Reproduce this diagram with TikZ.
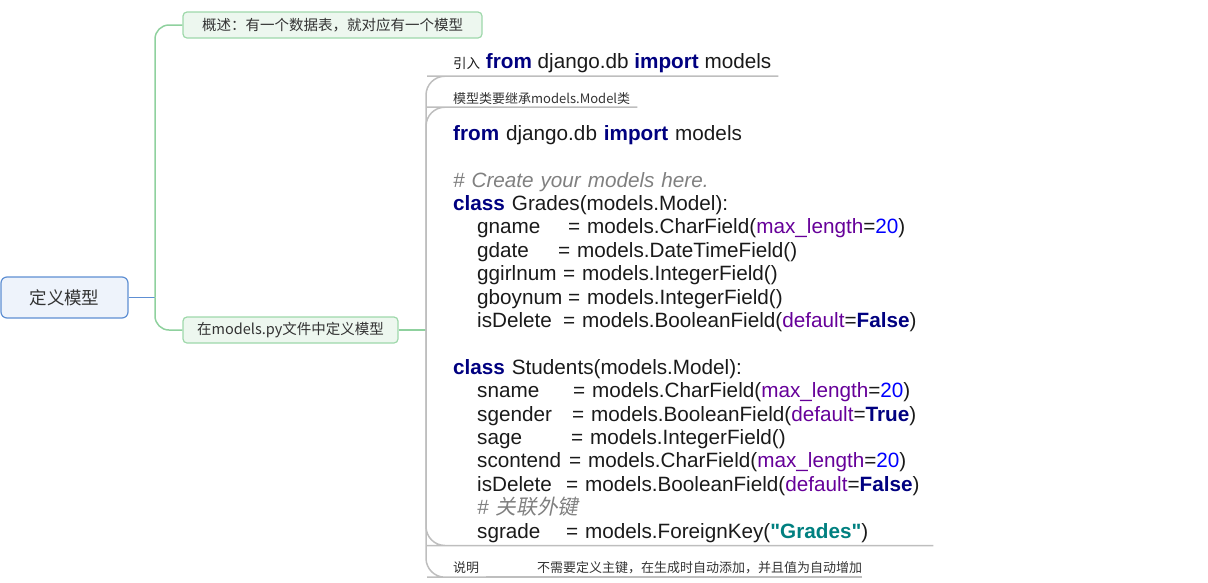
\documentclass[tikz,border=0pt]{standalone}
\usepackage{fontspec}
\setmainfont{Liberation Sans}[Ligatures=TeXOff]
\newfontfamily\cjk{Noto Sans CJK SC}
\newfontfamily\cjkslant{Noto Sans CJK SC}[FakeSlant=0.2]
\usetikzlibrary{positioning}

\definecolor{rootblue}{HTML}{5E8FD3}
\definecolor{rootfill}{HTML}{EEF3FB}
\definecolor{topicgreen}{HTML}{9ED8AA}
\definecolor{topicfill}{HTML}{EDF7EF}
\definecolor{branchgreen}{HTML}{8FD19E}
\definecolor{branchgray}{HTML}{BEBEBE}
\definecolor{labelgray}{HTML}{333333}
\definecolor{codeblack}{HTML}{1A1A1A}
\definecolor{kwblue}{HTML}{000080}
\definecolor{argpurple}{HTML}{660099}
\definecolor{numblue}{HTML}{0000FF}
\definecolor{strteal}{HTML}{008080}
\definecolor{cmtgray}{HTML}{808080}

\newcommand\pykw[1]{{\bfseries\color{kwblue}#1}}
\newcommand\pyarg[1]{{\color{argpurple}#1}}
\newcommand\pynum[1]{{\color{numblue}#1}}
\newcommand\pystr[1]{{\bfseries\color{strteal}"#1"}}
\newcommand\pycmt[1]{{\itshape\color{cmtgray}#1}}
\newcommand\pyfld[2]{\hspace*{24pt}\makebox[#1pt][l]{#2}}

\tikzset{
  rootbox/.style={draw=rootblue, fill=rootfill, line width=1.2pt, rounded corners=6pt,
    minimum width=127pt, minimum height=41pt, text=labelgray,
    font=\fontsize{17.5}{20}\selectfont\cjk},
  topicbox/.style={draw=topicgreen, fill=topicfill, line width=1.2pt, rounded corners=4pt,
    minimum height=26pt, text=labelgray, font=\fontsize{14.5}{17}\selectfont\cjk},
  subtopic/.style={inner xsep=7pt, inner ysep=0pt, text=labelgray,
    font=\fontsize{13}{16}\selectfont\cjk},
  codetext/.style={text=codeblack, font=\fontsize{20.7}{23.4}\selectfont},
  rootline/.style={draw=rootblue, line width=1.4pt},
  mainline/.style={draw=branchgreen, line width=1.5pt, rounded corners=14pt},
  subline/.style={draw=branchgray, line width=1.5pt, rounded corners=19pt}
}

\begin{document}
\begin{tikzpicture}[x=1pt, y=-1pt]
	\useasboundingbox (0,0) rectangle (1208,582);
	% central topic and its two branches
	\node[rootbox] (root) at (64.5,297.5) {定义模型};
	\node[topicbox, minimum width=299pt] (overview) at (332.5,25) {概述：有一个数据表，就对应有一个模型};
	\node[topicbox, minimum width=215pt] (define) at (290.5,330) {在models.py文件中定义模型};
	\coordinate (fork) at (155,297.5);
	\draw[rootline] (root.east) -- (fork);
	\draw[mainline] (fork) |- (overview.west);
	\draw[mainline] (fork) |- (define.west);
	% sub topics of define, underlined
	\node[subtopic, codetext, anchor=base west, text depth=7.5pt] (import) at (446,68.5)
		{{\fontsize{13.5}{16}\selectfont\cjk 引入} \pykw{from} django.db \pykw{import} models};
	\node[subtopic, anchor=base west, text depth=4pt] (inherit) at (446,103) {模型类要继承models.Model类};
	\node[subtopic, codetext, inner ysep=3pt, anchor=north west, text width=473pt, align=left] (code) at (446,122) {%
		\pykw{from} django.db \pykw{import} models\\[23.4pt]
		\pycmt{\# Create your models here.}\\
		\pykw{class} Grades(models.Model):\\
		\pyfld{91}{gname}= models.CharField(\pyarg{max\_length}=\pynum{20})\\
		\pyfld{81}{gdate}= models.DateTimeField()\\
		\pyfld{86}{ggirlnum}= models.IntegerField()\\
		\pyfld{91}{gboynum}= models.IntegerField()\\
		\pyfld{86}{isDelete}= models.BooleanField(\pyarg{default}=\pykw{False})\\[23.4pt]
		\pykw{class} Students(models.Model):\\
		\pyfld{96}{sname}= models.CharField(\pyarg{max\_length}=\pynum{20})\\
		\pyfld{95}{sgender}= models.BooleanField(\pyarg{default}=\pykw{True})\\
		\pyfld{94}{sage}= models.IntegerField()\\
		\pyfld{92}{scontend}= models.CharField(\pyarg{max\_length}=\pynum{20})\\
		\pyfld{89}{isDelete}= models.BooleanField(\pyarg{default}=\pykw{False})\\
		\hspace*{24pt}\pycmt{\# {\cjkslant 关联外键}}\\
		\pyfld{89}{sgrade}= models.ForeignKey(\pystr{Grades})};
	\node[subtopic, anchor=base west, text depth=5pt] (note) at (446,572) {说明};
	\node[subtopic, inner xsep=0pt, anchor=base west, text depth=5pt] (detail) at (537,572)
		{不需要定义主键，在生成时自动添加，并且值为自动增加};
	\coordinate (trunk) at (426,330);
	\draw[mainline] (define.east) -- (trunk);
	\draw[subline] (trunk) |- (import.south west) -- (import.south east);
	\draw[subline] (trunk) |- (inherit.south west) -- (inherit.south east);
	\draw[subline] (trunk) |- (code.south west) -- (code.south east);
	\draw[subline] (trunk) |- (note.south west) -- (note.south east);
	\draw[subline] (note.south east) -- (detail.south west) -- (detail.south east);
\end{tikzpicture}
\end{document}
